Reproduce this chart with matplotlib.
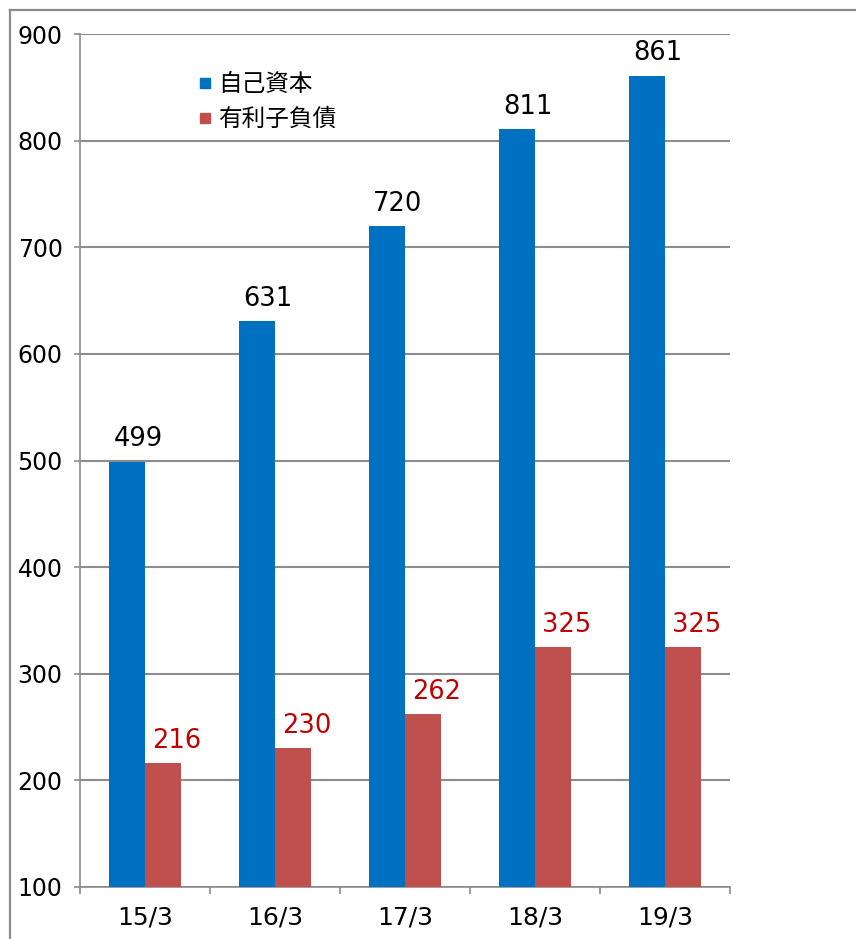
import matplotlib
matplotlib.use("Agg")
import matplotlib.pyplot as plt
import numpy as np
from matplotlib.lines import Line2D

plt.rcParams['font.family'] = ['DejaVu Sans', 'Noto Sans CJK JP']

periods = ["15/3", "16/3", "17/3", "18/3", "19/3"]
equity = [499, 631, 720, 811, 861]
debt = [216, 230, 262, 325, 325]
series_names = ["自己資本", "有利子負債"]
yticks = [100, 200, 300, 400, 500, 600, 700, 800, 900]

blue = '#0070C0'
red = '#C0504D'
label_red = '#C00000'
gray = '#8C8C8C'

fig = plt.figure(figsize=(8.56, 9.39), dpi=100)
ax = fig.add_axes([80 / 856, 1 - 887 / 939, 650 / 856, 853 / 939])

x = np.arange(len(periods))
w = 0.28
ax.bar(x - w / 2, equity, w, color=blue, zorder=3)
ax.bar(x + w / 2, debt, w, color=red, zorder=3)

for xi, v in zip(x, equity):
    ax.annotate(str(v), (xi - w / 2, v), xytext=(8, 11), textcoords='offset points',
                ha='center', va='baseline', fontsize=18.5, color='black')
for xi, v in zip(x, debt):
    ax.annotate(str(v), (xi + w / 2, v), xytext=(10, 11), textcoords='offset points',
                ha='center', va='baseline', fontsize=18.5, color=label_red)

ax.set_ylim(100, 900)
ax.set_xlim(-0.5, len(periods) - 0.5)
ax.set_yticks(yticks)
ax.yaxis.grid(True, color=gray, linewidth=1.5, zorder=0)
ax.tick_params(axis='y', length=4.5, width=1.2, color=gray, pad=8, labelsize=17)

ax.set_xticks(x)
ax.set_xticklabels(periods)
ax.set_xticks(np.arange(len(periods) + 1) - 0.5, minor=True)
ax.tick_params(axis='x', which='major', length=0, pad=13, labelsize=18)
ax.tick_params(axis='x', which='minor', length=5, width=1.2, color=gray)

for s in ['top', 'right']:
    ax.spines[s].set_visible(False)
for s in ['left', 'bottom']:
    ax.spines[s].set_color(gray)
    ax.spines[s].set_linewidth(1.2)

handles = [Line2D([], [], marker='s', linestyle='none', markersize=7.5, color=c)
           for c in (blue, red)]
ax.legend(handles, series_names, loc='upper left', bbox_to_anchor=(178 / 856, 1 - 52 / 939),
          bbox_transform=fig.transFigure, frameon=False, handlelength=0.5,
          handletextpad=0.3, labelspacing=0.5, prop={'family': 'Noto Sans CJK JP', 'size': 17})

# outer frame
fig.add_artist(Line2D([10 / 856, 1], [1 - 10 / 939, 1 - 10 / 939], color=gray, linewidth=1.6,
                      transform=fig.transFigure))
fig.add_artist(Line2D([10 / 856, 10 / 856], [0, 1 - 10 / 939], color=gray, linewidth=1.6,
                      transform=fig.transFigure))

fig.savefig("out.png", dpi=100)
